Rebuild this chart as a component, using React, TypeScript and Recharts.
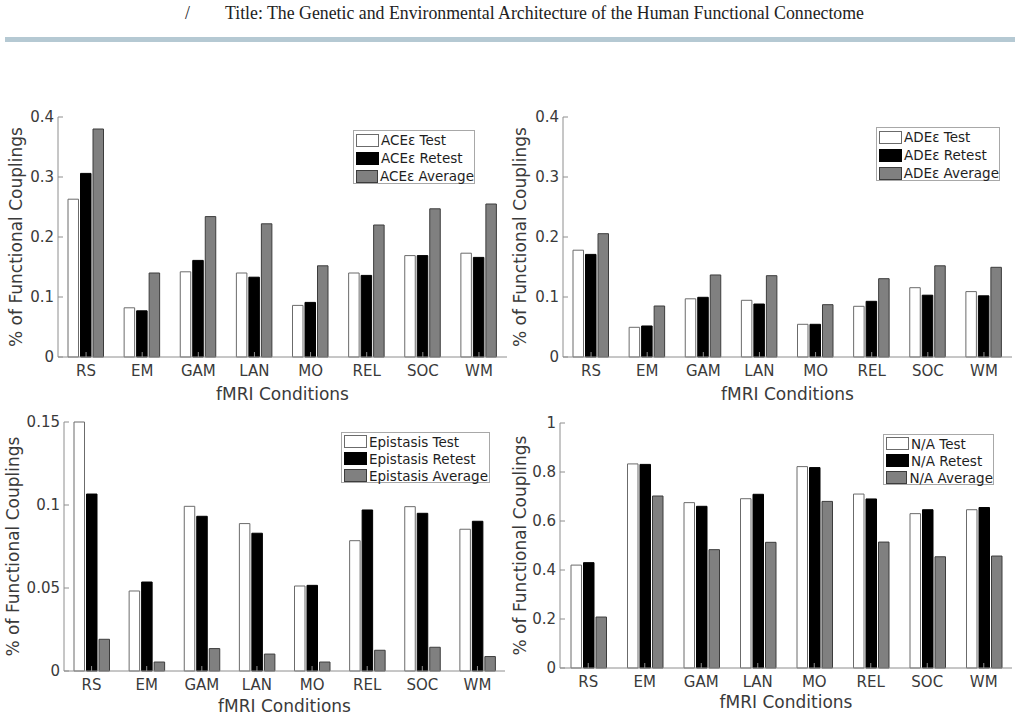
import React from 'react';
import { BarChart, Bar, XAxis, YAxis, Legend } from 'recharts';

// fMRI conditions shared by every panel
const conditions = ['RS', 'EM', 'GAM', 'LAN', 'MO', 'REL', 'SOC', 'WM'];

// ACEε model
const aceTest = [0.263, 0.082, 0.142, 0.14, 0.086, 0.14, 0.169, 0.173];
const aceRetest = [0.306, 0.077, 0.161, 0.133, 0.091, 0.136, 0.169, 0.166];
const aceAverage = [0.38, 0.14, 0.234, 0.222, 0.152, 0.22, 0.247, 0.255];

// ADEε model
const adeTest = [0.178, 0.0495, 0.097, 0.0945, 0.0545, 0.0845, 0.1155, 0.109];
const adeRetest = [0.171, 0.0517, 0.0995, 0.0883, 0.0545, 0.0928, 0.103, 0.102];
const adeAverage = [0.2055, 0.085, 0.1367, 0.1355, 0.0872, 0.1305, 0.152, 0.1495];

// Epistasis
const epiTest = [0.15, 0.0482, 0.0992, 0.0888, 0.0512, 0.0785, 0.099, 0.0854];
const epiRetest = [0.1066, 0.0536, 0.0932, 0.083, 0.0516, 0.097, 0.095, 0.0902];
const epiAverage = [0.0191, 0.0054, 0.0135, 0.0102, 0.0054, 0.0125, 0.0143, 0.0087];

// No model assigned
const naTest = [0.42, 0.833, 0.675, 0.691, 0.822, 0.71, 0.63, 0.646];
const naRetest = [0.43, 0.831, 0.66, 0.709, 0.818, 0.69, 0.646, 0.655];
const naAverage = [0.208, 0.702, 0.483, 0.513, 0.68, 0.514, 0.454, 0.457];

// y-axis tick values
const ticksModel = [0, 0.1, 0.2, 0.3, 0.4];
const ticksEpistasis = [0, 0.05, 0.1, 0.15];
const ticksNA = [0, 0.2, 0.4, 0.6, 0.8, 1];

const pageTitle = 'Title: The Genetic and Environmental Architecture of the Human Functional Connectome';
const yTitle = '% of Functional Couplings';
const xTitle = 'fMRI Conditions';

const FONT = '"DejaVu Sans", Verdana, sans-serif';
const AXIS = '#8e8e8e';
const TEXT = '#3a3a3a';
const TICK_LEN = 5;
const Y_MARGIN = 4;
const X_MARGIN = 8;

const buildRows = (t: number[], r: number[], a: number[]) =>
  conditions.map((cond, i) => ({ cond, test: t[i], retest: r[i], average: a[i] }));

const leftTick = (p: any) => {
  const ax = p.x + Y_MARGIN;
  return (
    <g>
      <line x1={ax} x2={ax + TICK_LEN} y1={p.y} y2={p.y} stroke={AXIS} />
      <text x={p.x} y={p.y} dy="0.36em" textAnchor="end" fontSize={15} fill={TEXT} fontFamily={FONT}>
        {String(p.payload.value)}
      </text>
    </g>
  );
};

const rightTick = (p: any) => (
  <line x1={p.x} x2={p.x - TICK_LEN} y1={p.y} y2={p.y} stroke={AXIS} />
);

const bottomTick = (p: any) => {
  const ay = p.y - X_MARGIN;
  return (
    <g>
      <line x1={p.x} x2={p.x} y1={ay} y2={ay - TICK_LEN} stroke={AXIS} />
      <text x={p.x} y={p.y} dy="0.73em" textAnchor="middle" fontSize={15} fill={TEXT} fontFamily={FONT}>
        {p.payload.value}
      </text>
    </g>
  );
};

const topTick = (p: any) => (
  <line x1={p.x} x2={p.x} y1={p.y} y2={p.y + TICK_LEN} stroke={AXIS} />
);

type LegendSpec = { left: number; top: number; width: number; rowH: number };

const LegendBox = ({ name, spec }: { name: string; spec: LegendSpec }) => {
  const rows = [
    { label: `${name} Test`, fill: '#ffffff', stroke: '#6b6b6b' },
    { label: `${name} Retest`, fill: '#000000', stroke: '#000000' },
    { label: `${name} Average`, fill: '#808080', stroke: '#3c3c3c' },
  ];
  return (
    <div
      style={{
        width: spec.width,
        height: spec.rowH * 3,
        boxSizing: 'border-box',
        border: '1px solid #a8a8a8',
        background: '#fff',
        fontFamily: FONT,
        fontSize: 13.5,
        color: '#1e1e1e',
        whiteSpace: 'nowrap',
        overflow: 'visible',
      }}
    >
      {rows.map((r) => (
        <div key={r.label} style={{ height: spec.rowH, display: 'flex', alignItems: 'center' }}>
          <span
            style={{
              display: 'inline-block',
              width: 23,
              height: 13,
              marginLeft: 2,
              marginRight: 2,
              boxSizing: 'border-box',
              background: r.fill,
              border: `1.5px solid ${r.stroke}`,
            }}
          />
          <span>{r.label}</span>
        </div>
      ))}
    </div>
  );
};

type PanelProps = {
  name: string;
  rows: any[];
  ticks: number[];
  left: number;
  top: number;
  width: number;
  height: number;
  margin: { top: number; right: number; left: number; bottom: number };
  yAxisWidth: number;
  yLabelOffset: number;
  xLabelOffset: number;
  legend: LegendSpec;
};

const Panel = (p: PanelProps) => {
  const domain: [number, number] = [p.ticks[0], p.ticks[p.ticks.length - 1]];
  return (
    <div style={{ position: 'absolute', left: p.left, top: p.top }}>
      <BarChart width={p.width} height={p.height} data={p.rows} margin={p.margin} barGap={2}>
        <XAxis
          dataKey="cond"
          height={45}
          interval={0}
          tickSize={0}
          tickMargin={X_MARGIN}
          tick={bottomTick}
          axisLine={{ stroke: AXIS }}
          label={{
            value: xTitle,
            position: 'insideBottom',
            offset: p.xLabelOffset,
            style: { fontSize: 17, fill: TEXT, fontFamily: FONT },
          }}
        />
        <XAxis
          xAxisId="top"
          dataKey="cond"
          orientation="top"
          height={0}
          interval={0}
          tickSize={0}
          tickMargin={0}
          tick={topTick}
          axisLine={{ stroke: AXIS }}
        />
        <YAxis
          width={p.yAxisWidth}
          domain={domain}
          ticks={p.ticks}
          interval={0}
          tickSize={0}
          tickMargin={Y_MARGIN}
          tick={leftTick}
          axisLine={{ stroke: AXIS }}
          label={{
            value: yTitle,
            angle: -90,
            position: 'insideLeft',
            offset: p.yLabelOffset,
            style: { textAnchor: 'middle', fontSize: 17, fill: TEXT, fontFamily: FONT },
          }}
        />
        <YAxis
          yAxisId="right"
          orientation="right"
          width={0}
          domain={domain}
          ticks={p.ticks}
          interval={0}
          tickSize={0}
          tickMargin={0}
          tick={rightTick}
          axisLine={{ stroke: AXIS }}
        />
        <Legend
          layout="vertical"
          align="center"
          verticalAlign="middle"
          wrapperStyle={{ left: p.legend.left, top: p.legend.top, width: p.legend.width }}
          content={() => <LegendBox name={p.name} spec={p.legend} />}
        />
        <Bar dataKey="test" name={`${p.name} Test`} fill="#ffffff" stroke="#6b6b6b" barSize={10.5} isAnimationActive={false} />
        <Bar dataKey="retest" name={`${p.name} Retest`} fill="#000000" stroke="#000000" barSize={10.5} isAnimationActive={false} />
        <Bar dataKey="average" name={`${p.name} Average`} fill="#808080" stroke="#3c3c3c" barSize={10.5} isAnimationActive={false} />
      </BarChart>
    </div>
  );
};

export default function App() {
  return (
    <div
      style={{
        position: 'absolute',
        left: 0,
        top: 0,
        width: 1020,
        height: 718,
        background: '#ffffff',
        overflow: 'hidden',
      }}
    >
      <svg width={1020} height={50} style={{ position: 'absolute', left: 0, top: 0 }}>
        <text x={185} y={19} fontFamily='"Liberation Serif", "Times New Roman", serif' fontSize={17.8} fill="#222">
          /
        </text>
        <text x={225} y={19} fontFamily='"Liberation Serif", "Times New Roman", serif' fontSize={17.8} fill="#222">
          {pageTitle}
        </text>
        <rect x={5} y={37} width={1010} height={5} fill="#b5c9d3" />
      </svg>

      <Panel
        name="ACEε"
        rows={buildRows(aceTest, aceRetest, aceAverage)}
        ticks={ticksModel}
        left={0}
        top={100}
        width={510}
        height={310}
        margin={{ top: 17, right: 3, left: 13, bottom: 8 }}
        yAxisWidth={45}
        yLabelOffset={3}
        xLabelOffset={2}
        legend={{ left: 353, top: 30, width: 122, rowH: 18 }}
      />
      <Panel
        name="ADEε"
        rows={buildRows(adeTest, adeRetest, adeAverage)}
        ticks={ticksModel}
        left={510}
        top={100}
        width={510}
        height={310}
        margin={{ top: 17, right: 8, left: 8, bottom: 8 }}
        yAxisWidth={45}
        yLabelOffset={2}
        xLabelOffset={2}
        legend={{ left: 366, top: 27, width: 124, rowH: 18 }}
      />
      <Panel
        name="Epistasis"
        rows={buildRows(epiTest, epiRetest, epiAverage)}
        ticks={ticksEpistasis}
        left={0}
        top={410}
        width={510}
        height={308}
        margin={{ top: 12, right: 5, left: 9, bottom: 2 }}
        yAxisWidth={55}
        yLabelOffset={4}
        xLabelOffset={4.5}
        legend={{ left: 341, top: 22, width: 149, rowH: 17 }}
      />
      <Panel
        name="N/A"
        rows={buildRows(naTest, naRetest, naAverage)}
        ticks={ticksNA}
        left={510}
        top={410}
        width={510}
        height={308}
        margin={{ top: 13, right: 8, left: 5, bottom: 5 }}
        yAxisWidth={45}
        yLabelOffset={5}
        xLabelOffset={5}
        legend={{ left: 373, top: 24, width: 111, rowH: 17 }}
      />
    </div>
  );
}
